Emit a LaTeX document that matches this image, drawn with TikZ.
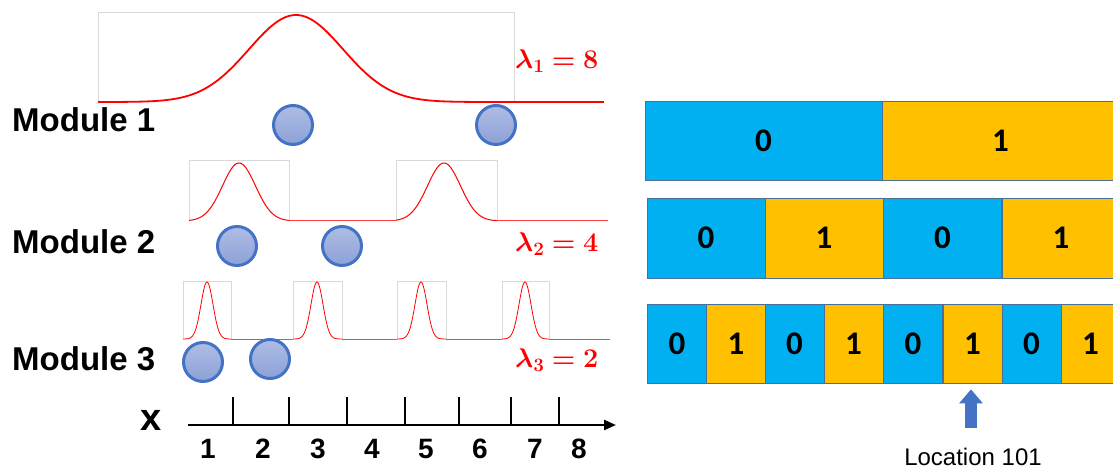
\RequirePackage{fix-cm}
\documentclass[tikz,border=0pt]{standalone}
\usepackage{amsmath,bm}
\usepackage{fontspec}
\setmainfont{Liberation Sans}
\newfontfamily\calfont{Carlito}
\usetikzlibrary{arrows.meta,calc}
\definecolor{cblue}{HTML}{00B0F0}
\definecolor{cgold}{HTML}{FFC000}
\definecolor{cedge}{HTML}{4A6F9C}
\definecolor{ballA}{HTML}{AEBDE4}
\definecolor{ballB}{HTML}{8CA1D7}
\definecolor{balledge}{HTML}{4472C4}
\definecolor{boxgrey}{HTML}{D9D9D9}
\definecolor{arrowblue}{HTML}{4472C4}
\definecolor{gred}{HTML}{FF0000}
\newcommand{\gaussbox}[8]{%
  \draw[gbox] (#1,#6) -- (#1,#5) -- (#2,#5) -- (#2,#6);
  \draw[gred, line width=#8, line join=round] plot[domain=#1:#2, samples=121, smooth]
    (\x,{#6-(#6-#7)*exp(-0.5*((\x-#3)/#4)*((\x-#3)/#4))});
}
\begin{document}
\begin{tikzpicture}[x=1pt,y=-1pt,
  modlabel/.style={anchor=west, inner sep=0, font=\fontsize{33}{36}\selectfont\bfseries},
  lam/.style={anchor=west, inner sep=0, text=gred, font=\fontsize{27}{30}\selectfont},
  ball/.style={circle, minimum size=39, inner sep=0, draw=balledge, line width=3pt, top color=ballA, bottom color=ballB},
  gbox/.style={draw=boxgrey, line width=0.6pt},
  baseln/.style={gred!75, line width=1pt},
  cell/.style={draw=cedge, line width=0.8pt, inner sep=0, font=\calfont\fontsize{33}{35}\selectfont\bfseries},
  ticklab/.style={inner sep=0, font=\fontsize{28}{30}\selectfont\bfseries},
]
\useasboundingbox (0,0) rectangle (1113,470);

% ---------- Module 1
\gaussbox{98}{514}{296}{47}{12}{102}{15}{1.8pt}
\draw[gred, line width=1.4pt] (514,102) -- (604,102);
\node[modlabel] (m1) at (12,120) {Module 1};
\node[lam] (l1) at (515,61) {$\bm{\lambda_{1} = 8}$};
\node[ball] (c11) at (293,125) {};
\node[ball] (c12) at (496,125) {};

% ---------- Module 2
\gaussbox{189}{289}{239}{16.5}{160}{221}{163}{1pt}
\gaussbox{396}{497}{444}{16.5}{160}{221}{163}{1pt}
\draw[baseln] (289,221) -- (396,221);
\draw[baseln] (497,221) -- (608,221);
\node[modlabel] (m2) at (12,242) {Module 2};
\node[lam] (l2) at (515,244) {$\bm{\lambda_{2} = 4}$};
\node[ball] (c21) at (237,246) {};
\node[ball] (c22) at (342,246) {};

% ---------- Module 3
\gaussbox{183}{231}{207}{6}{281}{339}{282}{0.8pt}
\gaussbox{293}{342}{317}{6}{281}{339}{282}{0.8pt}
\gaussbox{397}{446}{421}{6}{281}{339}{282}{0.8pt}
\gaussbox{502}{549}{525}{6}{281}{339}{282}{0.8pt}
\draw[baseln] (231,339) -- (293,339);
\draw[baseln] (342,339) -- (397,339);
\draw[baseln] (446,339) -- (502,339);
\draw[baseln] (549,339) -- (610,339);
\node[modlabel] (m3) at (12,359) {Module 3};
\node[lam] (l3) at (515,360) {$\bm{\lambda_{3} = 2}$};
\node[ball] (c31) at (203,362) {};
\node[ball] (c32) at (270,359) {};

% ---------- axis
\node[inner sep=0, font=\fontsize{38}{40}\selectfont\bfseries] (xl) at (151,420) {x};
\coordinate (ax0) at (188,425);
\coordinate (ax1) at (616,425);
\draw[line width=2.4pt, -{Triangle[length=12pt,width=10pt]}] (ax0) -- (ax1);
\foreach \t in {233,289,347,405,459,511,559}{
  \draw[line width=1.6pt] (\t,397) -- (\t,425);
}
\foreach \n/\xx in {1/208,2/263,3/318,4/372,5/426,6/480,7/535,8/579}{
  \node[ticklab] (n\n) at (\xx,449) {\n};
}

% ---------- bars
\node[cell, fill=cblue, minimum width=237, minimum height=79] (b1a) at (763.5,140.5) {0};
\node[cell, fill=cgold, minimum width=237, minimum height=79] (b1b) at (1000.5,140.5) {1};

\foreach \i/\cx/\lab/\col in {a/706/0/cblue, b/824/1/cgold, c/942.5/0/cblue, d/1061/1/cgold}{
  \node[cell, fill=\col, minimum width=118, minimum height=80] (b2\i) at (\cx,238) {\lab};
}
\foreach \i/\cx/\lab/\col in {a/677/0/cblue, b/736/1/cgold, c/794.5/0/cblue, d/853.5/1/cgold,
                              e/913/0/cblue, f/972.5/1/cgold, g/1031.5/0/cblue, h/1090.5/1/cgold}{
  \node[cell, fill=\col, minimum width=59, minimum height=79] (b3\i) at (\cx,343.5) {\lab};
}

% ---------- location arrow
\node[inner sep=0, font=\fontsize{24}{26}\selectfont] (loc) at (973,457) {Location 101};
\coordinate (arrbase) at (971,428);
\coordinate (arrtip) at ($(b3f.south)+(-1.5,6)$);
\draw[arrowblue, line width=12pt, -{Triangle[length=14pt,width=23pt]}] (arrbase) -- (arrtip);
\end{tikzpicture}
\end{document}
